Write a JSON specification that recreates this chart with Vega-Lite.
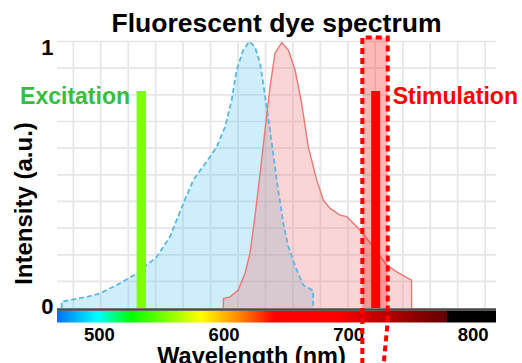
{
  "$schema": "https://vega.github.io/schema/vega-lite/v6.json",
  "width": 439,
  "height": 285,
  "autosize": {"type": "none"},
  "padding": {"left": 57, "top": 37.5, "right": 26, "bottom": 40.5},
  "background": "white",
  "config": {"view": {"stroke": null}, "font": "Liberation Sans"},
  "title": {"text": "Fluorescent dye spectrum", "fontSize": 26.5, "fontWeight": "bold", "color": "black", "frame": "group", "anchor": "middle", "offset": -8, "font": "Liberation Sans"},
  "datasets": {
    "vgrid": [{"nm": 479.4}, {"nm": 501.4}, {"nm": 523.5}, {"nm": 545.5}, {"nm": 567.5}, {"nm": 589.6}, {"nm": 611.6}, {"nm": 633.7}, {"nm": 655.7}, {"nm": 677.7}, {"nm": 699.8}, {"nm": 721.8}, {"nm": 743.9}, {"nm": 765.9}, {"nm": 787.9}, {"nm": 810.0}],
    "hgrid": [{"v": 0.1}, {"v": 0.2}, {"v": 0.3}, {"v": 0.4}, {"v": 0.5}, {"v": 0.6}, {"v": 0.7}, {"v": 0.8}, {"v": 0.9}, {"v": 1.0}],
    "blue": [{"nm": 470.0, "v": 0}, {"nm": 470.1, "v": 0.024}, {"nm": 479.4, "v": 0.033}, {"nm": 490.1, "v": 0.042}, {"nm": 500.8, "v": 0.055}, {"nm": 516.9, "v": 0.093}, {"nm": 530.3, "v": 0.13}, {"nm": 546.3, "v": 0.192}, {"nm": 557, "v": 0.268}, {"nm": 567.7, "v": 0.393}, {"nm": 575.7, "v": 0.48}, {"nm": 589.1, "v": 0.568}, {"nm": 594.5, "v": 0.605}, {"nm": 601.2, "v": 0.68}, {"nm": 606.5, "v": 0.78}, {"nm": 610.5, "v": 0.893}, {"nm": 615.8, "v": 0.968}, {"nm": 620.7, "v": 1.0}, {"nm": 625.2, "v": 0.98}, {"nm": 629.3, "v": 0.918}, {"nm": 631.9, "v": 0.843}, {"nm": 637.3, "v": 0.668}, {"nm": 642.7, "v": 0.48}, {"nm": 648, "v": 0.318}, {"nm": 652, "v": 0.23}, {"nm": 658.7, "v": 0.143}, {"nm": 664, "v": 0.086}, {"nm": 671.9, "v": 0.066}, {"nm": 672, "v": 0}],
    "red": [{"nm": 599.8, "v": 0}, {"nm": 599.9, "v": 0.036}, {"nm": 605.2, "v": 0.042}, {"nm": 611.8, "v": 0.068}, {"nm": 617.2, "v": 0.13}, {"nm": 621.2, "v": 0.205}, {"nm": 625.2, "v": 0.343}, {"nm": 629.3, "v": 0.505}, {"nm": 633.3, "v": 0.668}, {"nm": 637.3, "v": 0.83}, {"nm": 641.3, "v": 0.956}, {"nm": 646.7, "v": 0.996}, {"nm": 652, "v": 0.968}, {"nm": 657.4, "v": 0.893}, {"nm": 662.7, "v": 0.768}, {"nm": 668, "v": 0.605}, {"nm": 674.8, "v": 0.48}, {"nm": 680.1, "v": 0.405}, {"nm": 685.5, "v": 0.374}, {"nm": 693.5, "v": 0.349}, {"nm": 698.9, "v": 0.343}, {"nm": 709.5, "v": 0.293}, {"nm": 720.2, "v": 0.23}, {"nm": 731, "v": 0.161}, {"nm": 739, "v": 0.136}, {"nm": 750.9, "v": 0.105}, {"nm": 751, "v": 0}],
    "callout": [{"i": 0, "nm": 711.4, "v": -0.21}, {"i": 1, "nm": 711.4, "v": 1.015}, {"i": 2, "nm": 731.8, "v": 1.015}, {"i": 3, "nm": 731.8, "v": -0.05}, {"i": 4, "nm": 728.5, "v": -0.21}]
  },
  "layer": [
    {
      "data": {"name": "vgrid"},
      "mark": {"type": "rule", "color": "#e6e6e6", "strokeWidth": 1.7},
      "encoding": {
        "x": {"field": "nm", "type": "quantitative", "scale": {"domain": [466.3, 818.7], "nice": false, "zero": false},
          "axis": {"values": [500, 600, 700, 800], "title": "Wavelength (nm)", "grid": false, "ticks": false, "domain": false, "labelFont": "Liberation Sans", "labelFontSize": 18.5, "labelFontWeight": "bold", "labelColor": "black", "labelPadding": 3, "titleFont": "Liberation Sans", "titleFontSize": 23.5, "titleFontWeight": "bold", "titleColor": "black", "titleX": 194, "titleY": 41, "titleBaseline": "alphabetic", "titleAlign": "center"}},
        "y": {"datum": 0, "type": "quantitative", "scale": {"domain": [-0.054, 1.015], "nice": false, "zero": false},
          "axis": {"values": [0.0075, 0.977], "labelExpr": "datum.value > 0.5 ? '1' : '0'", "title": "Intensity (a.u.)", "grid": false, "ticks": false, "domain": false, "labelFont": "Liberation Sans", "labelFontSize": 22, "labelFontWeight": "bold", "labelColor": "black", "labelPadding": 4, "labelBaseline": "middle", "titleFont": "Liberation Sans", "titleFontSize": 24, "titleFontWeight": "bold", "titleColor": "black", "titleX": -25.5, "titleY": 165.5, "titleBaseline": "alphabetic", "titleAlign": "center", "titleAngle": -90}},
        "y2": {"datum": 1}
      }
    },
    {
      "data": {"name": "hgrid"},
      "mark": {"type": "rule", "color": "#e6e6e6", "strokeWidth": 1.7},
      "encoding": {
        "x": {"datum": 466.3, "type": "quantitative"},
        "x2": {"datum": 818.7},
        "y": {"field": "v", "type": "quantitative"}
      }
    },
    {
      "data": {"name": "blue"},
      "mark": {"type": "area", "color": "#5ac8f0", "opacity": 0.3},
      "encoding": {
        "x": {"field": "nm", "type": "quantitative"},
        "y": {"field": "v", "type": "quantitative", "stack": null}
      }
    },
    {
      "data": {"name": "red"},
      "mark": {"type": "area", "color": "#f08080", "opacity": 0.33},
      "encoding": {
        "x": {"field": "nm", "type": "quantitative"},
        "y": {"field": "v", "type": "quantitative", "stack": null}
      }
    },
    {
      "data": {"name": "blue"},
      "mark": {"type": "line", "color": "#5cb6e6", "strokeWidth": 1.8, "strokeDash": [5, 3]},
      "encoding": {
        "x": {"field": "nm", "type": "quantitative"},
        "y": {"field": "v", "type": "quantitative"}
      }
    },
    {
      "data": {"name": "red"},
      "mark": {"type": "line", "color": "#f07575", "strokeWidth": 1.4},
      "encoding": {
        "x": {"field": "nm", "type": "quantitative"},
        "y": {"field": "v", "type": "quantitative"}
      }
    },
    {
      "data": {"values": [{"nm": 530.2, "nm2": 537.7, "v": 0, "v2": 0.814}]},
      "mark": {"type": "rect", "color": "#80ff00"},
      "encoding": {
        "x": {"field": "nm", "type": "quantitative"},
        "x2": {"field": "nm2"},
        "y": {"field": "v", "type": "quantitative"},
        "y2": {"field": "v2"}
      }
    },
    {
      "data": {"values": [{"nm": 711.4, "nm2": 731.8, "v": 0, "v2": 1.015}]},
      "mark": {"type": "rect", "color": "#ff0000", "opacity": 0.28},
      "encoding": {
        "x": {"field": "nm", "type": "quantitative"},
        "x2": {"field": "nm2"},
        "y": {"field": "v", "type": "quantitative"},
        "y2": {"field": "v2"}
      }
    },
    {
      "data": {"values": [{"nm": 718.5, "nm2": 725.7, "v": 0, "v2": 0.814}]},
      "mark": {"type": "rect", "color": "#ff0000"},
      "encoding": {
        "x": {"field": "nm", "type": "quantitative"},
        "x2": {"field": "nm2"},
        "y": {"field": "v", "type": "quantitative"},
        "y2": {"field": "v2"}
      }
    },
    {
      "data": {"values": [{"nm": 466.3, "nm2": 818.7, "v": -0.0094, "v2": -0.054}]},
      "mark": {"type": "rect", "fill": {"gradient": "linear", "x1": 0, "y1": 0, "x2": 1, "y2": 0, "stops": [
        {"offset": 0, "color": "#0070f0"},
        {"offset": 0.0928, "color": "#00ffff"},
        {"offset": 0.169, "color": "#00ff00"},
        {"offset": 0.328, "color": "#ffff00"},
        {"offset": 0.419, "color": "#ff8000"},
        {"offset": 0.496, "color": "#ff0000"},
        {"offset": 0.635, "color": "#ff0000"},
        {"offset": 0.889, "color": "#600000"},
        {"offset": 0.8893, "color": "#000000"},
        {"offset": 1, "color": "#000000"}]}},
      "encoding": {
        "x": {"field": "nm", "type": "quantitative"},
        "x2": {"field": "nm2"},
        "y": {"field": "v", "type": "quantitative"},
        "y2": {"field": "v2"}
      }
    },
    {
      "data": {"values": [{"nm": 466.3, "nm2": 818.7, "v": -0.005}]},
      "mark": {"type": "rule", "color": "#4a4a4a", "strokeWidth": 2.4},
      "encoding": {
        "x": {"field": "nm", "type": "quantitative"},
        "x2": {"field": "nm2"},
        "y": {"field": "v", "type": "quantitative"}
      }
    },
    {
      "data": {"name": "callout"},
      "mark": {"type": "line", "color": "#ff0000", "strokeWidth": 4, "strokeDash": [6, 4], "strokeCap": "butt"},
      "encoding": {
        "x": {"field": "nm", "type": "quantitative"},
        "y": {"field": "v", "type": "quantitative"},
        "order": {"field": "i"}
      }
    },
    {
      "data": {"values": [{"label": "Excitation", "nm": 524.9, "v": 0.7655}]},
      "mark": {"type": "text", "align": "right", "baseline": "alphabetic", "font": "Liberation Sans", "fontSize": 23, "fontWeight": "bold", "color": "#3cbc3c"},
      "encoding": {
        "x": {"field": "nm", "type": "quantitative"},
        "y": {"field": "v", "type": "quantitative"},
        "text": {"field": "label"}
      }
    },
    {
      "data": {"values": [{"label": "Stimulation", "nm": 735.8, "v": 0.7655}]},
      "mark": {"type": "text", "align": "left", "baseline": "alphabetic", "font": "Liberation Sans", "fontSize": 23, "fontWeight": "bold", "color": "#ff0000"},
      "encoding": {
        "x": {"field": "nm", "type": "quantitative"},
        "y": {"field": "v", "type": "quantitative"},
        "text": {"field": "label"}
      }
    }
  ]
}
